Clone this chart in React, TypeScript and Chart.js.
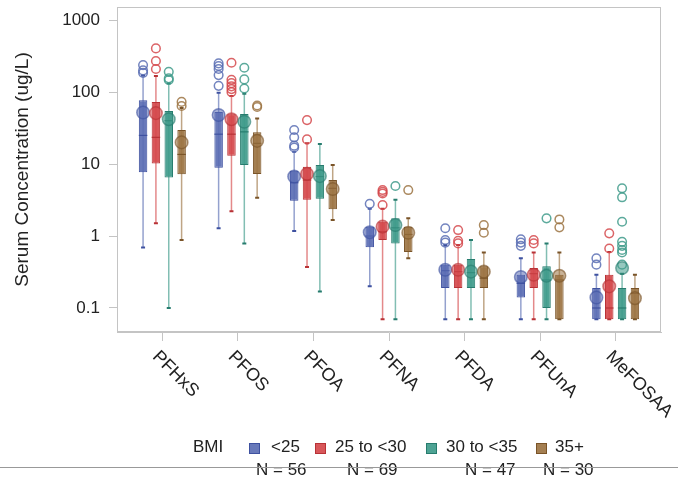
import { useEffect, useRef } from "react"
import { Chart, registerables } from "chart.js"

Chart.register(...registerables)

const categories = ["PFHxS", "PFOS", "PFOA", "PFNA", "PFDA", "PFUnA", "MeFOSAA"]
const bmiGroups = ["<25", "25 to <30", "30 to <35", "35+"]
const groupCounts = [56, 69, 47, 30]
const yTicks = [0.1, 1, 10, 100, 1000]

const fills = ["#5b6eb4", "#d5494c", "#3f9b8b", "#9c7443"]
const edges = ["#3e51a0", "#b83236", "#277c6e", "#7a5428"]

// each row is one BMI group, each column one compound (same order as categories)
const q1 = [
  [7.7, 8.9, 3.1, 0.7, 0.19, 0.14, 0.07],
  [10.2, 13, 3.2, 0.88, 0.19, 0.19, 0.07],
  [6.5, 9.7, 3.3, 0.79, 0.19, 0.1, 0.07],
  [7.2, 7.3, 2.35, 0.6, 0.19, 0.07, 0.07],
]
const q3 = [
  [77, 53, 8.1, 1.35, 0.4, 0.29, 0.19],
  [73, 49, 9.2, 1.58, 0.4, 0.36, 0.29],
  [54.5, 49.5, 9.7, 1.76, 0.48, 0.38, 0.19],
  [29.7, 27.6, 6.0, 1.35, 0.38, 0.29, 0.19],
]
const medians = [
  [25, 26, 5.5, 1.0, 0.33, 0.22, 0.1],
  [23.5, 26, 6.0, 1.15, 0.32, 0.3, 0.1],
  [40, 28, 6.7, 1.3, 0.31, 0.245, 0.1],
  [13.6, 19.4, 4.6, 1.05, 0.26, 0.245, 0.16],
]
const means = [
  [52, 48, 6.7, 1.13, 0.34, 0.27, 0.14],
  [51, 42, 7.3, 1.35, 0.34, 0.29, 0.2],
  [42, 38.7, 6.8, 1.42, 0.32, 0.28, 0.36],
  [20, 21, 4.5, 1.11, 0.32, 0.28, 0.137],
]
const whiskerLow = [
  [0.69, 1.28, 1.17, 0.2, 0.07, 0.07, 0.07],
  [1.5, 2.2, 0.37, 0.07, 0.07, 0.07, 0.07],
  [0.1, 0.79, 0.17, 0.07, 0.07, 0.07, 0.07],
  [0.88, 3.4, 1.67, 0.49, 0.07, 0.07, 0.07],
]
const whiskerHigh = [
  [170, 98, 14.8, 2.4, 0.75, 0.49, 0.29],
  [167, 88, 19.4, 2.4, 0.75, 0.59, 0.6],
  [132, 95, 19, 3.2, 0.88, 0.79, 0.3],
  [60, 43, 9.7, 1.76, 0.59, 0.59, 0.29],
]
const outliers = [
  [[185, 200, 237], [122, 172, 209, 230, 250], [17, 18, 23.5, 29.7], [2.8], [0.81, 0.88, 1.28], [0.73, 0.81, 0.9], [0.4, 0.49]],
  [[209, 270, 404], [100, 110, 120, 133, 148, 255], [22, 40.8], [2.7, 3.9, 4.1, 4.35], [0.79, 0.86, 1.21], [0.79, 0.88], [0.67, 1.09]],
  [[147, 155, 191], [112, 150, 218], [], [4.95], [], [1.76], [0.4, 0.59, 0.64, 0.73, 0.83, 1.58, 3.45, 4.6]],
  [[64, 73], [62, 65], [], [4.35], [1.11, 1.42], [1.32, 1.7], []],
]

const FONT = '"Liberation Sans", Arial, sans-serif'

function rgba(hex: string, a: number) {
  const n = parseInt(hex.slice(1), 16)
  return `rgba(${(n >> 16) & 255}, ${(n >> 8) & 255}, ${n & 255}, ${a})`
}

const boxExtras = {
  id: "boxExtras",
  beforeDatasetsDraw(chart: any) {
    const { ctx } = chart
    const y = chart.scales.y
    ctx.save()
    bmiGroups.forEach((_, g) => {
      chart.getDatasetMeta(g).data.forEach((bar: any, i: number) => {
        const top = y.getPixelForValue(whiskerHigh[g][i])
        const bottom = y.getPixelForValue(whiskerLow[g][i])
        ctx.strokeStyle = rgba(fills[g], 0.65)
        ctx.lineWidth = 1.5
        ctx.beginPath()
        ctx.moveTo(bar.x, top)
        ctx.lineTo(bar.x, bottom)
        ctx.stroke()
        ctx.strokeStyle = edges[g]
        ctx.lineWidth = 2
        ctx.beginPath()
        ctx.moveTo(bar.x - 2, top)
        ctx.lineTo(bar.x + 2, top)
        ctx.moveTo(bar.x - 2, bottom)
        ctx.lineTo(bar.x + 2, bottom)
        ctx.stroke()
      })
    })
    ctx.restore()
  },
  afterDatasetsDraw(chart: any) {
    const { ctx } = chart
    const y = chart.scales.y
    ctx.save()
    bmiGroups.forEach((_, g) => {
      chart.getDatasetMeta(g).data.forEach((bar: any, i: number) => {
        const half = bar.width / 2
        const my = y.getPixelForValue(medians[g][i])
        ctx.strokeStyle = edges[g]
        ctx.lineWidth = 1.2
        ctx.beginPath()
        ctx.moveTo(bar.x - half, my)
        ctx.lineTo(bar.x + half, my)
        ctx.stroke()

        outliers[g][i].forEach((v) => {
          ctx.strokeStyle = rgba(fills[g], 0.85)
          ctx.lineWidth = 1.5
          ctx.beginPath()
          ctx.arc(bar.x, y.getPixelForValue(v), 4.3, 0, Math.PI * 2)
          ctx.stroke()
        })

        const meanY = y.getPixelForValue(means[g][i])
        ctx.fillStyle = rgba(fills[g], 0.55)
        ctx.strokeStyle = rgba(edges[g], 0.6)
        ctx.lineWidth = 1.5
        ctx.beginPath()
        ctx.arc(bar.x, meanY, 6.3, 0, Math.PI * 2)
        ctx.fill()
        ctx.stroke()
      })
    })
    ctx.restore()
  },
  afterDraw(chart: any) {
    const { ctx, chartArea } = chart
    const x = chart.scales.x
    ctx.save()
    ctx.strokeStyle = "#c4c4c4"
    ctx.lineWidth = 1
    ctx.strokeRect(chartArea.left + 0.5, chartArea.top + 0.5, chartArea.width - 1, chartArea.height - 1)
    ctx.fillStyle = "#222"
    ctx.font = `18px ${FONT}`
    ctx.textAlign = "left"
    ctx.textBaseline = "middle"
    categories.forEach((label, i) => {
      ctx.save()
      ctx.translate(x.getPixelForValue(i) - 7, chartArea.bottom + 22)
      ctx.rotate(Math.PI / 4)
      ctx.fillText(label, 0, 0)
      ctx.restore()
    })
    ctx.restore()
  },
}

export default function App() {
  const canvasRef = useRef<HTMLCanvasElement>(null)
  const chartRef = useRef<Chart | null>(null)

  useEffect(() => {
    document.body.style.margin = "0"
    if (!canvasRef.current) return
    if (chartRef.current) chartRef.current.destroy()

    chartRef.current = new Chart(canvasRef.current, {
      type: "bar",
      data: {
        datasets: bmiGroups.map((name, g) => ({
          label: name,
          data: categories.map((_, i) => ({ x: i, y: [q1[g][i], q3[g][i]] })),
          backgroundColor: rgba(fills[g], 0.92),
          borderColor: edges[g],
          borderWidth: 1,
          borderSkipped: false,
          categoryPercentage: 0.68,
          barPercentage: 0.66,
        })),
      } as any,
      options: {
        animation: false,
        responsive: true,
        maintainAspectRatio: false,
        layout: { padding: { top: 7, right: 17, left: 0, bottom: 0 } },
        plugins: {
          legend: { display: false },
          tooltip: { enabled: false },
        },
        scales: {
          x: {
            type: "linear",
            min: -0.6,
            max: 6.6,
            offset: false,
            afterBuildTicks: (scale: any) => {
              scale.ticks = categories.map((_, i) => ({ value: i }))
            },
            afterFit: (scale: any) => {
              scale.height = 149
              scale.paddingLeft = 0
              scale.paddingRight = 0
            },
            ticks: { display: false },
            grid: { drawOnChartArea: false, drawTicks: true, tickLength: 9, color: "#c4c4c4", offset: false },
            border: { color: "#c4c4c4" },
          },
          y: {
            type: "logarithmic",
            min: 0.0464,
            max: 1520,
            stacked: false,
            afterBuildTicks: (scale: any) => {
              scale.ticks = yTicks.map((v) => ({ value: v, major: true }))
            },
            afterFit: (scale: any) => {
              scale.width = 117
              scale.paddingTop = 0
              scale.paddingBottom = 0
            },
            ticks: {
              padding: 9,
              color: "#222",
              font: { family: FONT, size: 17 },
              callback: (v: any) => String(v),
            },
            grid: { drawOnChartArea: false, drawTicks: true, tickLength: 8, color: "#c4c4c4" },
            border: { color: "#c4c4c4" },
            title: {
              display: true,
              text: "Serum Concentration (ug/L)",
              color: "#222",
              font: { family: FONT, size: 19 },
              padding: { top: 11, bottom: 0 },
            },
          },
        },
      } as any,
      plugins: [boxExtras],
    })

    return () => {
      if (chartRef.current) {
        chartRef.current.destroy()
        chartRef.current = null
      }
    }
  }, [])

  const text = { position: "absolute" as const, fontFamily: FONT, fontSize: 17, color: "#222", lineHeight: "20px", whiteSpace: "nowrap" as const }
  const swatchX = [249, 315, 426, 536]
  const labelX = [271, 335, 446, 555]
  const countX = [256, 347, 465, 543]

  return (
    <div style={{ position: "relative", width: 678, height: 481, background: "#fff" }}>
      <div style={{ position: "absolute", left: 0, top: 0, width: 678, height: 481 }}>
        <canvas ref={canvasRef} />
      </div>
      <div style={{ ...text, left: 193, top: 437 }}>BMI</div>
      {bmiGroups.map((name, g) => (
        <div key={name}>
          <div
            style={{
              position: "absolute",
              left: swatchX[g],
              top: 443,
              width: 9,
              height: 9,
              background: rgba(fills[g], 0.92),
              border: `1px solid ${edges[g]}`,
            }}
          />
          <div style={{ ...text, left: labelX[g], top: 437 }}>{name}</div>
          <div style={{ ...text, left: countX[g], top: 460 }}>N = {groupCounts[g]}</div>
        </div>
      ))}
      <div style={{ position: "absolute", left: 0, top: 467, width: 678, height: 1, background: "#999" }} />
    </div>
  )
}
